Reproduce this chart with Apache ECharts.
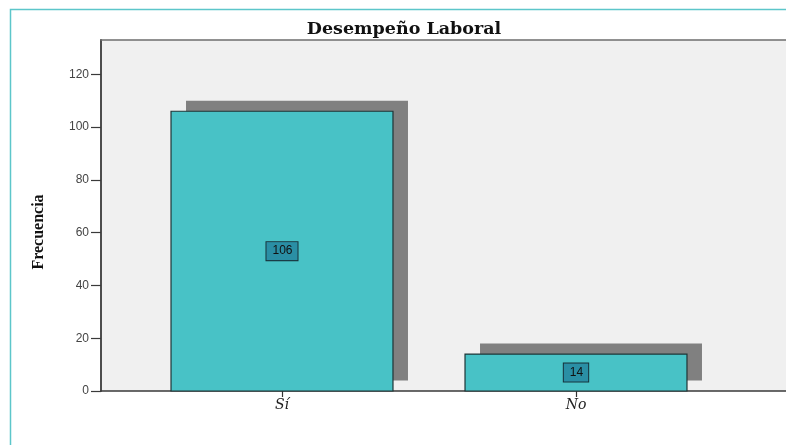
<!DOCTYPE html>
<html>
<head>
<meta charset="utf-8">
<script src="https://cdn.jsdelivr.net/npm/echarts@6/dist/echarts.min.js"></script>
<style>
  html, body { margin: 0; padding: 0; background: #ffffff; }
  #chart { width: 786px; height: 445px; }
</style>
</head>
<body>
<div id="chart"></div>
<script>
// Desempeño Laboral: frequency of answers
const categories = ['Sí', 'No'];
const frequencies = [106, 14];
const yTicks = [0, 20, 40, 60, 80, 100, 120];

const chartTitle = 'Desempeño Laboral';
const yAxisTitle = 'Frecuencia';

const barColor = '#48c2c6';
const shadowColor = '#808080';
const plotBg = '#f0f0f0';
const frameColor = '#5cc6ca';
const yMax = 133;

const chart = echarts.init(document.getElementById('chart'), null, { renderer: 'canvas' });

// Each bar is drawn with a drop shadow offset to the upper right and a boxed count label at its middle.
function renderBar(params, api) {
  const idx = api.value(0);
  const val = api.value(1);
  const top = api.coord([idx, val]);
  const base = api.coord([idx, 0]);
  const mid = api.coord([idx, val / 2]);
  const band = api.size([1, 0])[0];
  const w = band * 0.755;
  const h = base[1] - top[1];
  return {
    type: 'group',
    children: [
      {
        type: 'rect',
        shape: { x: top[0] - w / 2 + 15, y: top[1] - 10.5, width: w, height: h },
        style: { fill: shadowColor }
      },
      {
        type: 'rect',
        shape: { x: top[0] - w / 2, y: top[1], width: w, height: h },
        style: { fill: barColor, stroke: '#1e3436', lineWidth: 1.2 }
      },
      {
        type: 'text',
        x: mid[0],
        y: mid[1],
        style: {
          text: String(val),
          align: 'center',
          verticalAlign: 'middle',
          font: '12px "Liberation Sans", Arial, sans-serif',
          fill: '#111111',
          backgroundColor: '#2a8fa5',
          borderColor: '#17323a',
          borderWidth: 1,
          padding: [3, 5, 3, 6]
        }
      }
    ]
  };
}

const option = {
  backgroundColor: '#ffffff',
  animation: false,
  grid: [
    { left: 101, top: 40, right: 0, bottom: 54, show: true, backgroundColor: plotBg, borderWidth: 0 },
    { left: 135, top: 40, right: 63, bottom: 54 }
  ],
  xAxis: [
    {
      gridIndex: 0, type: 'value', min: 0, max: 1, position: 'bottom',
      axisLine: { show: true, lineStyle: { color: '#3a3a3a', width: 1.6 } },
      axisTick: { show: false }, axisLabel: { show: false }, splitLine: { show: false }
    },
    {
      gridIndex: 0, type: 'value', min: 0, max: 1, position: 'top',
      axisLine: { show: true, lineStyle: { color: '#6e6e6e', width: 1.6 } },
      axisTick: { show: false }, axisLabel: { show: false }, splitLine: { show: false }
    },
    {
      gridIndex: 1, type: 'category', data: categories, boundaryGap: true,
      axisLine: { show: false },
      axisTick: { show: true, alignWithLabel: true, length: 6, lineStyle: { color: '#333333', width: 1.2 } },
      axisLabel: {
        margin: 7, color: '#222222', fontStyle: 'italic',
        fontFamily: '"DejaVu Serif", serif', fontSize: 14
      },
      splitLine: { show: false }
    }
  ],
  yAxis: [
    {
      gridIndex: 0, type: 'value', min: 0, max: yMax, interval: 20,
      axisLine: { show: true, lineStyle: { color: '#3a3a3a', width: 1.8 } },
      axisTick: {
        show: true, inside: false, length: 10, customValues: yTicks,
        lineStyle: { color: '#3a3a3a', width: 1.2 }
      },
      axisLabel: {
        margin: 12, color: '#444444', fontSize: 12, customValues: yTicks,
        fontFamily: '"Liberation Sans", Arial, sans-serif'
      },
      splitLine: { show: false }
    },
    {
      gridIndex: 1, type: 'value', min: 0, max: yMax, show: false
    }
  ],
  graphic: [
    {
      type: 'polyline', silent: true,
      shape: { points: [[10.5, 445], [10.5, 9.5], [786, 9.5]] },
      style: { stroke: frameColor, lineWidth: 1.5, fill: null }
    },
    {
      type: 'text', x: 404, y: 29,
      style: {
        text: chartTitle, align: 'center', verticalAlign: 'middle',
        font: 'bold 17.5px "DejaVu Serif", serif', fill: '#111111'
      }
    },
    {
      type: 'text', x: 39, y: 232, rotation: Math.PI / 2,
      style: {
        text: yAxisTitle, align: 'center', verticalAlign: 'middle',
        font: 'bold 16px "Liberation Serif", "Times New Roman", serif', fill: '#111111'
      }
    }
  ],
  series: [
    {
      type: 'custom',
      xAxisIndex: 2,
      yAxisIndex: 1,
      renderItem: renderBar,
      encode: { x: 0, y: 1 },
      data: categories.map((c, i) => [i, frequencies[i]])
    }
  ]
};

chart.setOption(option);
</script>
</body>
</html>
